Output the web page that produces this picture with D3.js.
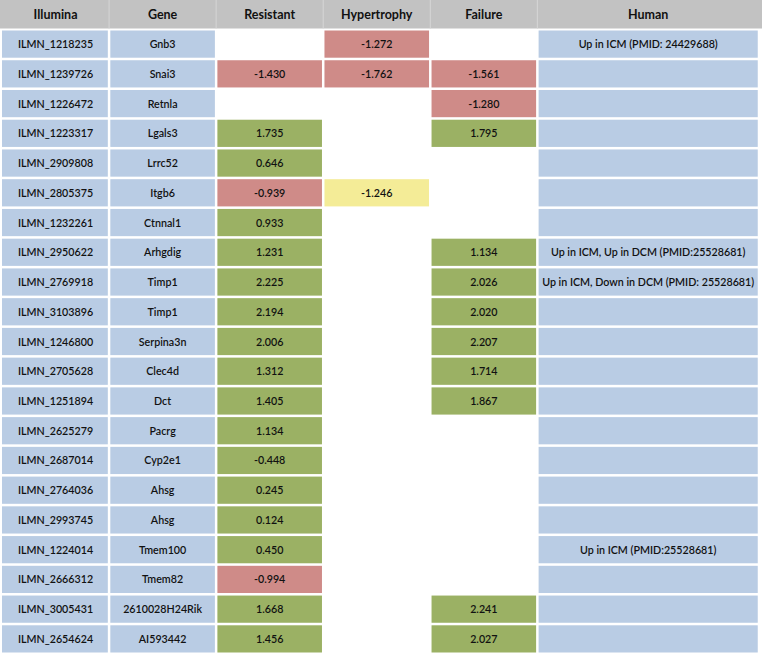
<!DOCTYPE html>
<html>
<head>
<meta charset="utf-8">
<script src="https://cdn.jsdelivr.net/npm/d3@7"></script>
<style>
  body { margin: 0; background: #fff; }
  text { font-family: Lato, "Open Sans", sans-serif; fill: #111; }
</style>
</head>
<body>
<div id="chart"></div>
<script>
// table data, one array per column
const columns = ["Illumina", "Gene", "Resistant", "Hypertrophy", "Failure", "Human"];

const illumina = ["ILMN_1218235", "ILMN_1239726", "ILMN_1226472", "ILMN_1223317", "ILMN_2909808",
    "ILMN_2805375", "ILMN_1232261", "ILMN_2950622", "ILMN_2769918", "ILMN_3103896", "ILMN_1246800",
    "ILMN_2705628", "ILMN_1251894", "ILMN_2625279", "ILMN_2687014", "ILMN_2764036", "ILMN_2993745",
    "ILMN_1224014", "ILMN_2666312", "ILMN_3005431", "ILMN_2654624"];

const genes = ["Gnb3", "Snai3", "Retnla", "Lgals3", "Lrrc52", "Itgb6", "Ctnnal1", "Arhgdig", "Timp1",
    "Timp1", "Serpina3n", "Clec4d", "Dct", "Pacrg", "Cyp2e1", "Ahsg", "Ahsg", "Tmem100", "Tmem82",
    "2610028H24Rik", "AI593442"];

const resistant = [null, -1.430, null, 1.735, 0.646, -0.939, 0.933, 1.231, 2.225, 2.194, 2.006,
    1.312, 1.405, 1.134, -0.448, 0.245, 0.124, 0.450, -0.994, 1.668, 1.456];
const resistantClass = [null, "down", null, "up", "up", "down", "up", "up", "up", "up", "up",
    "up", "up", "up", "up", "up", "up", "up", "down", "up", "up"];

const hypertrophy = [-1.272, -1.762, null, null, null, -1.246, null, null, null, null, null,
    null, null, null, null, null, null, null, null, null, null];
const hypertrophyClass = ["down", "down", null, null, null, "mixed", null, null, null, null, null,
    null, null, null, null, null, null, null, null, null, null];

const failure = [null, -1.561, -1.280, 1.795, null, null, null, 1.134, 2.026, 2.020, 2.207,
    1.714, 1.867, null, null, null, null, null, null, 2.241, 2.027];
const failureClass = [null, "down", "down", "up", null, null, null, "up", "up", "up", "up",
    "up", "up", null, null, null, null, null, null, "up", "up"];

const human = ["Up in ICM (PMID: 24429688)", "", "", "", "", "", "", "Up in ICM, Up in DCM (PMID:25528681)",
    "Up in ICM, Down in DCM (PMID: 25528681)", "", "", "", "", "", "", "", "", "Up in ICM (PMID:25528681)",
    "", "", ""];

const width = 762;
const height = 653;
const margin = {top: 30.5, left: 2, right: 3, bottom: 0.5};
const headerH = 28.5;
const gap = 2.5;

const colWeights = [1, 1, 1, 1, 1, 2.07];
const fills = {info: "#b9cce4", up: "#9bb164", down: "#cf8b88", mixed: "#f4ec97"};

// column edges from weights
const totalW = d3.sum(colWeights);
const unit = d3.scaleLinear().domain([0, totalW]).range([margin.left, width - margin.right]);
const colX = d3.cumsum([0].concat(colWeights)).map(function(v) { return unit(v); });

const yScale = d3.scaleBand()
    .domain(d3.range(illumina.length))
    .range([margin.top, height - margin.bottom])
    .paddingInner(0.085)
    .paddingOuter(0);

const svg = d3.select("#chart")
    .append("svg")
    .attr("width", width)
    .attr("height", height);

// header
svg.append("rect")
    .attr("x", 0).attr("y", 0)
    .attr("width", width).attr("height", headerH)
    .attr("fill", "#c2c2c2");

svg.selectAll(".hsep")
    .data(colX.slice(1, -1))
    .enter()
    .append("line")
    .attr("x1", function(d) { return d; })
    .attr("x2", function(d) { return d; })
    .attr("y1", 0).attr("y2", headerH)
    .attr("stroke", "#d6d6d6")
    .attr("stroke-width", 1);

svg.selectAll(".htext")
    .data(columns)
    .enter()
    .append("text")
    .attr("x", function(d, i) { return (colX[i] + colX[i + 1]) / 2; })
    .attr("y", headerH / 2 + 4.5)
    .attr("text-anchor", "middle")
    .attr("font-size", 12.5)
    .attr("font-weight", "bold")
    .text(function(d) { return d; });

// build cells
const cells = [];
illumina.forEach(function(id, r) {
    cells.push({r: r, c: 0, text: id, fill: fills.info});
    cells.push({r: r, c: 1, text: genes[r], fill: fills.info});
    [[resistant, resistantClass], [hypertrophy, hypertrophyClass], [failure, failureClass]].forEach(function(p, k) {
        if (p[0][r] !== null) {
            cells.push({r: r, c: k + 2, text: d3.format(".3f")(p[0][r]).replace("−", "-"), fill: fills[p[1][r]]});
        }
    });
    cells.push({r: r, c: 5, text: human[r], fill: fills.info});
});

svg.selectAll(".cell")
    .data(cells)
    .enter()
    .append("rect")
    .attr("x", function(d) { return colX[d.c] + (d.c === 0 ? 0 : gap / 2); })
    .attr("y", function(d) { return yScale(d.r); })
    .attr("width", function(d) { return colX[d.c + 1] - colX[d.c] - (d.c === 0 ? gap / 2 : gap); })
    .attr("height", yScale.bandwidth())
    .attr("fill", function(d) { return d.fill; });

svg.selectAll(".ctext")
    .data(cells)
    .enter()
    .append("text")
    .attr("x", function(d) { return (colX[d.c] + colX[d.c + 1]) / 2; })
    .attr("y", function(d) { return yScale(d.r) + yScale.bandwidth() / 2 + 4; })
    .attr("text-anchor", "middle")
    .attr("font-size", 10.7)
    .attr("font-weight", 600)
    .text(function(d) { return d.text; });
</script>
</body>
</html>
